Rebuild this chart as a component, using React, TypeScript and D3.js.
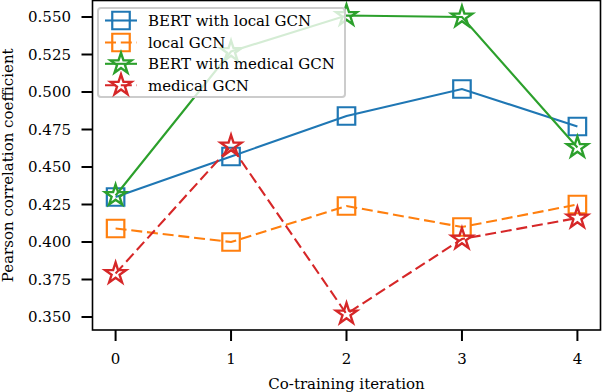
import React from "react";
import * as d3 from "d3";

const iterations = [0, 1, 2, 3, 4];
const bertLocal = [0.430, 0.457, 0.484, 0.502, 0.477];
const localGcn = [0.409, 0.400, 0.424, 0.410, 0.425];
const bertMedical = [0.431, 0.527, 0.551, 0.550, 0.463];
const medicalGcn = [0.379, 0.464, 0.352, 0.402, 0.416];
const yTicks = [0.35, 0.375, 0.4, 0.425, 0.45, 0.475, 0.5, 0.525, 0.55];
const seriesNames = ["BERT with local GCN", "local GCN", "BERT with medical GCN", "medical GCN"];
const seriesColors = ["#1f77b4", "#ff7f0e", "#2ca02c", "#d62728"];
const seriesMarkers = ["square", "square", "star", "star"];
const seriesDashed = [false, true, false, true];
const seriesValues = [bertLocal, localGcn, bertMedical, medicalGcn];

const W = 602;
const H = 392;
const left = 92.5;
const right = 600.5;
const top = 0.5;
const bottom = 330;
const FONT = "DejaVu Serif";

const x = d3.scaleLinear().domain([-0.2, 4.2]).range([left, right]);
const y = d3.scaleLinear().domain([0.34133, 0.561]).range([bottom, top]);

const squarePath = d3.symbol(d3.symbolSquare, 17.5 * 17.5)() as string;
const starPath = d3.symbol(d3.symbolStar, (11 * 11) / 0.8908130915292852)() as string;

function Marker({ kind, cx, cy, color }: { kind: string; cx: number; cy: number; color: string }) {
  return (
    <path
      d={kind === "star" ? starPath : squarePath}
      transform={`translate(${cx},${cy})`}
      fill="none"
      stroke={color}
      strokeWidth={kind === "star" ? 2.4 : 2.2}
      strokeLinejoin="miter"
    />
  );
}

export default function App() {
  const line = d3
    .line<number>()
    .x((_, i) => x(iterations[i]))
    .y((d) => y(d));

  const legX = 98;
  const legY = 8;
  const legW = 247;
  const legH = 89;
  const rowY = [20.5, 42.5, 63.8, 85.3];

  return (
    <svg width={W} height={H} style={{ display: "block", position: "absolute", left: 0, top: 0 }}>
      <rect x={0} y={0} width={W} height={H} fill="white" />
      {/* series */}
      {seriesValues.map((vals, s) => (
        <g key={s}>
          <path
            d={line(vals) as string}
            fill="none"
            stroke={seriesColors[s]}
            strokeWidth={2.1}
            strokeDasharray={seriesDashed[s] ? "11,4.8" : undefined}
          />
          {vals.map((v, i) => (
            <Marker key={i} kind={seriesMarkers[s]} cx={x(iterations[i])} cy={y(v)} color={seriesColors[s]} />
          ))}
        </g>
      ))}
      {/* frame */}
      <rect x={left} y={top} width={right - left} height={bottom - top} fill="none" stroke="black" strokeWidth={1.6} />
      {/* y ticks */}
      {yTicks.map((t) => (
        <g key={t}>
          <line x1={left - 11} x2={left} y1={y(t)} y2={y(t)} stroke="black" strokeWidth={2} />
          <text x={left - 21.5} y={y(t) + 5.5} textAnchor="end" fontFamily={FONT} fontSize={15} fill="black">
            {t.toFixed(3)}
          </text>
        </g>
      ))}
      {/* x ticks */}
      {iterations.map((t) => (
        <g key={t}>
          <line x1={x(t)} x2={x(t)} y1={bottom} y2={bottom + 11} stroke="black" strokeWidth={2} />
          <text x={x(t)} y={364} textAnchor="middle" fontFamily={FONT} fontSize={15} fill="black">
            {t}
          </text>
        </g>
      ))}
      {/* axis labels */}
      <text x={(left + right) / 2} y={389} textAnchor="middle" fontFamily={FONT} fontSize={15} fill="black">
        Co-training iteration
      </text>
      <text
        transform={`translate(12.5,${(top + bottom) / 2}) rotate(-90)`}
        textAnchor="middle"
        fontFamily={FONT}
        fontSize={15}
        fill="black"
      >
        Pearson correlation coefficient
      </text>
      {/* legend */}
      <rect x={legX} y={legY} width={legW} height={legH} rx={3} fill="white" fillOpacity={0.8} stroke="#cccccc" strokeWidth={2} />
      {seriesNames.map((name, s) => (
        <g key={name}>
          <line
            x1={105}
            x2={137}
            y1={rowY[s]}
            y2={rowY[s]}
            stroke={seriesColors[s]}
            strokeWidth={2.1}
            strokeDasharray={seriesDashed[s] ? "11,4.8" : undefined}
          />
          <Marker kind={seriesMarkers[s]} cx={121} cy={rowY[s]} color={seriesColors[s]} />
          <text x={148} y={rowY[s] + 5.5} fontFamily={FONT} fontSize={15} fill="black">
            {name}
          </text>
        </g>
      ))}
    </svg>
  );
}
